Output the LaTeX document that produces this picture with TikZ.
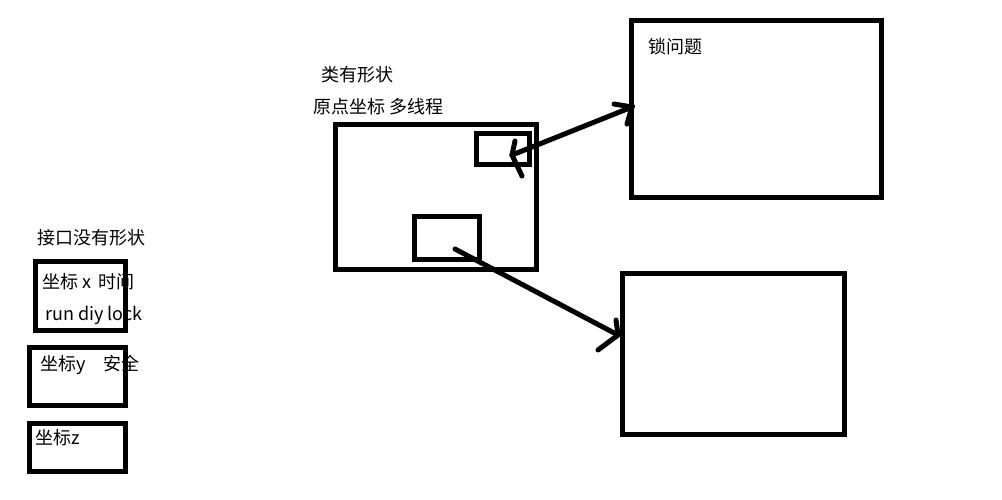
\documentclass[tikz,border=0pt]{standalone}
\usepackage{fontspec}
\setmainfont{Noto Sans CJK SC}
\begin{document}
\begin{tikzpicture}[x=1pt,y=-1pt,
  box/.style={draw,line width=5pt,anchor=north west,inner sep=0pt,outer sep=0pt},
  lbl/.style={anchor=west,inner sep=0pt,font=\fontsize{18}{21}\selectfont},
  stroke/.style={line width=5pt,line cap=round}]
\useasboundingbox[fill=white] (0,0) rectangle (1002,499);
% left column
\node[lbl] (t1) at (37,238) {接口没有形状};
\node[box,minimum width=90pt,minimum height=69pt] (b1) at (35.5,261.5) {};
\node[box,minimum width=96pt,minimum height=58pt] (b2) at (29.5,347.5) {};
\node[box,minimum width=96pt,minimum height=48pt] (b3) at (29.5,423.5) {};
\node[lbl] (t2) at (42,282) {坐标 x\, 时间};
\node[lbl] (t3) at (45,315) {run diy lock};
\node[lbl] (t4) at (40,365) {坐标y\quad 安全};
\node[lbl] (t5) at (35,438) {坐标z};
% middle
\node[lbl] (t6) at (321,75) {类有形状};
\node[lbl] (t7) at (313,107) {原点坐标 多线程};
\node[box,minimum width=201pt,minimum height=145pt] (m) at (335.5,124.5) {};
\node[box,minimum width=53pt,minimum height=31pt] (s1) at (476.5,133.5) {};
\node[box,minimum width=65pt,minimum height=43pt] (s2) at (414.5,216.5) {};
% right
\node[box,minimum width=250pt,minimum height=177pt] (r1) at (631.5,20.5) {};
\node[lbl] (t8) at (648,47) {锁问题};
\node[box,minimum width=222pt,minimum height=161pt] (r2) at (622.5,273.5) {};
% arrow 1 (double headed)
\coordinate (a1) at (512,155);
\coordinate (a2) at (632,107);
\draw[stroke] (a1) -- (a2);
\draw[stroke] (515,141) -- (a1) -- (522,176);
\draw[stroke] (614,104) -- (a2) -- (627,124);
% arrow 2
\coordinate (c1) at (455,249);
\coordinate (c2) at (618,335);
\draw[stroke] (c1) -- (c2);
\draw[stroke] (616,320) -- (c2) -- (598,350);
\end{tikzpicture}
\end{document}
